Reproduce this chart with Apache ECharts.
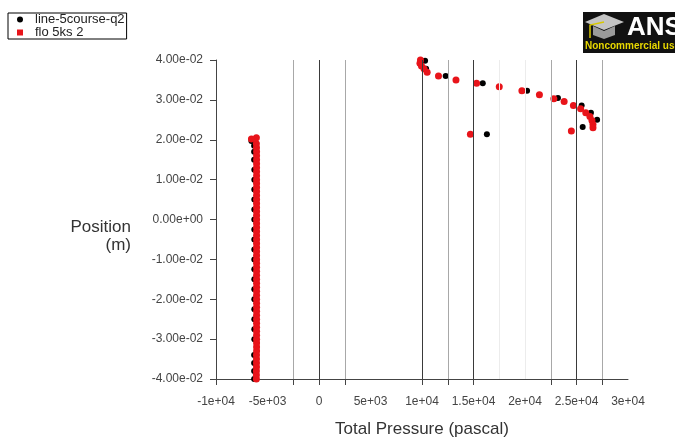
<!DOCTYPE html>
<html>
<head>
<meta charset="utf-8">
<script src="https://cdn.jsdelivr.net/npm/echarts@6/dist/echarts.min.js"></script>
<style>
  html, body { margin: 0; padding: 0; background: #fff; }
  #chart { width: 675px; height: 443px; }
</style>
</head>
<body>
<div id="chart"></div>
<script>
// Total pressure (Pa) vs. position (m) along two sampling lines

const seriesNames = ['line-5course-q2', 'flo 5ks 2'];

// line-5course-q2: vertical run plus the upper arc
const lineX = [
  -6300, -6300, -6300, -6300, -6280, -6280, -6280, -6280, -6280, -6280,
  -6280, -6280, -6280, -6280, -6280, -6280, -6280, -6280, -6280, -6280,
  -6280, -6280, -6300, -6300, -6300,
  -6560,
  10300, 10400, 12300, 15900, 20200, 23200, 25500, 26400, 27000, 25600, 16300
];
const lineY = [
  -0.0400, -0.0380, -0.0360, -0.0340, -0.0300, -0.0275, -0.0250, -0.0225, -0.0200, -0.0175,
  -0.0150, -0.0125, -0.0100, -0.0075, -0.0050, -0.0025, 0.0000, 0.0025, 0.0050, 0.0075,
  0.0100, 0.0125, 0.0150, 0.0170, 0.0185,
  0.0197,
  0.0398, 0.0378, 0.0360, 0.0342, 0.0323, 0.0305, 0.0286, 0.0268, 0.0250, 0.0232, 0.0214
];

// flo 5ks 2: vertical run plus the upper arc
const floX = [
  -6080, -6080, -6080, -6070, -6070, -6070, -6070, -6060, -6060, -6060,
  -6060, -6060, -6060, -6060, -6060, -6060, -6060, -6060, -6060, -6060,
  -6060, -6060, -6060, -6060, -6060, -6060, -6060, -6060, -6060, -6060,
  -6060, -6060, -6060, -6060, -6060, -6060, -6060, -6060, -6060, -6060,
  -6060, -6060, -6060, -6060, -6060, -6060, -6060, -6060, -6060, -6060,
  -6060, -6060, -6060, -6060, -6060, -6060, -6060, -6060, -6070, -6080,
  -6080, -6560,
  9850, 9800, 9950, 10200, 10500, 11600, 13300, 15300, 17500, 19700,
  21400, 22800, 23800, 24700, 25400, 25900, 26300, 26500, 26600, 26600,
  14700, 24500
];
const floY = [
  -0.0400, -0.0390, -0.0380, -0.0370, -0.0360, -0.0350, -0.0340, -0.0330, -0.0320, -0.0310,
  -0.0300, -0.0290, -0.0280, -0.0270, -0.0260, -0.0250, -0.0240, -0.0230, -0.0220, -0.0210,
  -0.0200, -0.0190, -0.0180, -0.0170, -0.0160, -0.0150, -0.0140, -0.0130, -0.0120, -0.0110,
  -0.0100, -0.0090, -0.0080, -0.0070, -0.0060, -0.0050, -0.0040, -0.0030, -0.0020, -0.0010,
  0.0000, 0.0010, 0.0020, 0.0030, 0.0040, 0.0050, 0.0060, 0.0070, 0.0080, 0.0090,
  0.0100, 0.0110, 0.0120, 0.0130, 0.0140, 0.0150, 0.0160, 0.0170, 0.0180, 0.0190,
  0.0205, 0.0202,
  0.0400, 0.0392, 0.0385, 0.0378, 0.0369, 0.0360, 0.0350, 0.0342, 0.0333, 0.0323,
  0.0313, 0.0303, 0.0296, 0.0286, 0.0278, 0.0268, 0.0258, 0.0248, 0.0238, 0.0230,
  0.0214, 0.0222
];

// Axis ticks and their labels
const xLabelValues = [-10000, -5000, 0, 5000, 10000, 15000, 20000, 25000, 30000];
const xTickLabels = ['-1e+04', '-5e+03', '0', '5e+03', '1e+04', '1.5e+04', '2e+04', '2.5e+04', '3e+04'];
const xTickValues = [-10000, -2500, 0, 2500, 10000, 12500, 15000, 22500, 25000, 27500];
const yTickValues = [-0.04, -0.03, -0.02, -0.01, 0, 0.01, 0.02, 0.03, 0.04];
const yTickLabels = ['-4.00e-02', '-3.00e-02', '-2.00e-02', '-1.00e-02', '0.00e+00',
                     '1.00e-02', '2.00e-02', '3.00e-02', '4.00e-02'];

// Vertical grid lines, grouped by drawn strength
const gridDark = [0, 10000, 15000, 25000];
const gridLight = [-2500, 2500, 12500, 22500, 27500];
const gridFaint = [17500, 20000];

const toPoints = (xs, ys) => xs.map((x, i) => [x, ys[i]]);

const gridLines = []
  .concat(gridDark.map(v => ({ xAxis: v, lineStyle: { color: '#3a3a3a', width: 1, type: 'solid' } })))
  .concat(gridLight.map(v => ({ xAxis: v, lineStyle: { color: '#a8a8a8', width: 1, type: 'solid' } })))
  .concat(gridFaint.map(v => ({ xAxis: v, lineStyle: { color: '#ececec', width: 1, type: 'solid' } })));

const chart = echarts.init(document.getElementById('chart'), null, { renderer: 'canvas' });

const labelFont = { fontFamily: 'Liberation Sans, Arial, sans-serif', fontSize: 12, color: '#444' };

chart.setOption({
  animation: false,
  backgroundColor: '#fff',
  grid: { left: 216, right: 47, top: 60, bottom: 58, containLabel: false },
  legend: {
    data: [
      { name: seriesNames[0], icon: 'circle' },
      { name: seriesNames[1], icon: 'rect' }
    ],
    orient: 'vertical',
    left: 8,
    top: 13,
    itemWidth: 6,
    itemHeight: 6,
    itemGap: 0,
    padding: [0, 2, 0, 9],
    borderColor: '#000',
    borderWidth: 1,
    borderRadius: 0,
    selectedMode: false,
    textStyle: { fontFamily: 'Liberation Sans, Arial, sans-serif', fontSize: 13, color: '#222', padding: [0, 0, 0, 7], lineHeight: 11 }
  },
  xAxis: {
    type: 'value',
    min: -10000,
    max: 30000,
    interval: 2500,
    name: 'Total Pressure (pascal)',
    nameLocation: 'middle',
    nameGap: 42,
    nameTextStyle: { fontFamily: 'Liberation Sans, Arial, sans-serif', fontSize: 17, color: '#333' },
    axisLine: { show: true, onZero: false, lineStyle: { color: '#444', width: 1 } },
    axisTick: { show: true, inside: false, length: 6, customValues: xTickValues, lineStyle: { color: '#444' } },
    axisLabel: {
      show: true,
      margin: 17,
      customValues: xLabelValues,
      formatter: v => {
        const i = xLabelValues.indexOf(v);
        return i >= 0 ? xTickLabels[i] : '';
      },
      ...labelFont
    },
    splitLine: { show: false }
  },
  yAxis: {
    type: 'value',
    min: -0.04,
    max: 0.04,
    interval: 0.01,
    axisLine: { show: true, onZero: false, lineStyle: { color: '#444', width: 1 } },
    axisTick: { show: true, inside: false, length: 6, lineStyle: { color: '#444' } },
    axisLabel: {
      show: true,
      margin: 13,
      formatter: v => {
        const i = yTickValues.findIndex(t => Math.abs(t - v) < 1e-9);
        return i >= 0 ? yTickLabels[i] : '';
      },
      ...labelFont
    },
    splitLine: { show: false }
  },
  series: [
    {
      name: 'grid',
      type: 'scatter',
      data: [],
      z: 1,
      silent: true,
      markLine: { symbol: 'none', silent: true, animation: false, label: { show: false }, data: gridLines }
    },
    {
      name: seriesNames[0],
      type: 'scatter',
      data: toPoints(lineX, lineY),
      symbol: 'circle',
      symbolSize: 6,
      itemStyle: { color: '#000', opacity: 1 },
      z: 3
    },
    {
      name: seriesNames[1],
      type: 'scatter',
      data: toPoints(floX, floY),
      symbol: 'circle',
      symbolSize: 7,
      itemStyle: { color: '#e8141a', opacity: 1 },
      z: 4
    }
  ],
  graphic: [
    {
      type: 'text',
      x: 131,
      y: 236,
      style: {
        text: 'Position\n(m)',
        align: 'right',
        verticalAlign: 'middle',
        font: '17px Liberation Sans, Arial, sans-serif',
        fill: '#333',
        lineHeight: 18
      }
    },
    // program badge in the top right corner
    {
      type: 'group',
      x: 0,
      y: 0,
      children: [
        { type: 'rect', shape: { x: 583, y: 12, width: 93, height: 41 }, style: { fill: '#111' } },
        { type: 'polygon', shape: { points: [[585, 22], [604, 14], [624, 22], [604, 30]] }, style: { fill: '#c4c4c4' } },
        { type: 'polygon', shape: { points: [[593, 26], [593, 35], [604, 39], [615, 35], [615, 26], [604, 31]] }, style: { fill: '#9a9a9a' } },
        { type: 'polyline', shape: { points: [[604, 22], [590, 25], [590, 38]] }, style: { stroke: '#d8c800', lineWidth: 1.5, fill: null } },
        {
          type: 'text', x: 627, y: 15,
          style: { text: 'ANSYS', font: 'bold 26px Liberation Sans Narrow, Liberation Sans, Arial, sans-serif', fill: '#fff' }
        },
        {
          type: 'text', x: 585, y: 41,
          style: { text: 'Noncommercial use', font: 'bold 10px Liberation Sans Narrow, Liberation Sans, Arial, sans-serif', fill: '#e8d800' }
        }
      ]
    }
  ]
});
</script>
</body>
</html>
